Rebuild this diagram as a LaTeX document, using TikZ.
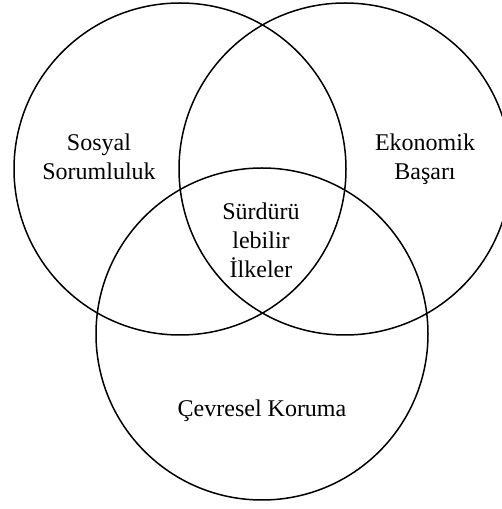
\documentclass[tikz,border=0pt]{standalone}
\usepackage{fontspec}
\setmainfont{Liberation Serif}
\begin{document}
\begin{tikzpicture}[x=1pt,y=1pt,
  ring/.style={draw, circle, line width=1.5pt, minimum size=332pt, inner sep=0pt},
  label/.style={align=center, anchor=base, inner sep=0pt,
    font=\fontsize{24}{29}\selectfont}]
  \useasboundingbox (0,0) rectangle (502,509);
  % the three overlapping circles
  \node[ring] (social) at (180,340) {};
  \node[ring] (economic) at (345,340) {};
  \node[ring] (environment) at (262,175) {};
  % circle labels (anchored at the baseline of the last line)
  \node[label] (socialtext) at (99,329) {Sosyal\\Sorumluluk};
  \node[label] (economictext) at (425,329) {Ekonomik\\Başarı};
  \node[label] (coretext) at (261,231) {Sürdürü\\lebilir\\İlkeler};
  \node[label] (environmenttext) at (262,92) {Çevresel Koruma};
\end{tikzpicture}
\end{document}
